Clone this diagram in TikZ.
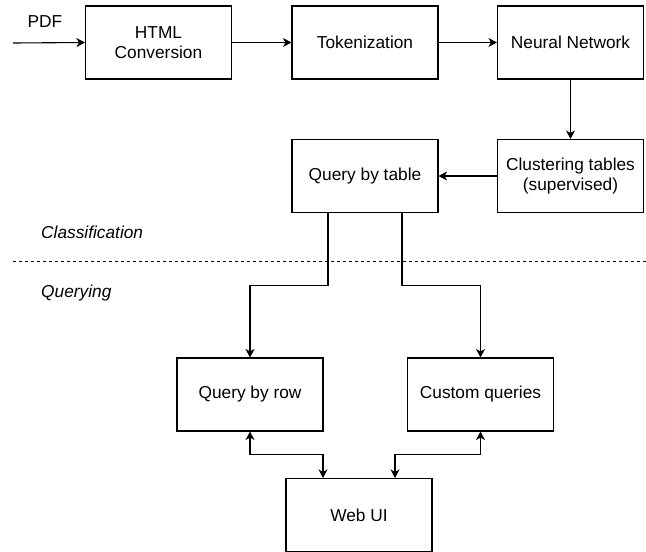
\documentclass[tikz,border=0pt]{standalone}
\usepackage{fontspec}
\setmainfont{Liberation Sans}
\usetikzlibrary{arrows.meta}
\begin{document}
\begin{tikzpicture}[x=1pt,y=-1pt,
  box/.style={draw, line width=1.1pt, minimum width=146pt, minimum height=73pt, align=center, inner sep=2pt, font=\fontsize{17.3}{19.5}\selectfont},
  lbl/.style={font=\fontsize{17.3}{19.5}\selectfont, inner sep=0pt},
  arr/.style={line width=1.1pt, -{Stealth[length=8.5pt,width=9pt,inset=2.5pt]}},
  darr/.style={line width=1.1pt, {Stealth[length=8.5pt,width=9pt,inset=2.5pt]}-{Stealth[length=8.5pt,width=9pt,inset=2.5pt]}}]
\useasboundingbox (0,0) rectangle (646,552);
\node[box] (html) at (158.5,42.5) {HTML\\Conversion};
\node[box] (tok) at (365,42.5) {Tokenization};
\node[box] (nn) at (570.5,42.5) {Neural Network};
\node[box] (clus) at (570.5,176) {Clustering tables\\(supervised)};
\node[box] (qt) at (365,176) {Query by table};
\node[box] (qr) at (250,394.5) {Query by row};
\node[box] (cq) at (480.5,394.5) {Custom queries};
\node[box] (web) at (359,515) {Web UI};
\coordinate (pdfstart) at (13,43);
\node[lbl] (pdf) at (45,22) {PDF};
\node[lbl, anchor=west] (cls) at (41,232) {\itshape Classification};
\node[lbl, anchor=west] (qry) at (41,293) {\itshape Querying};
\coordinate (dl) at (13,261);
\coordinate (dr) at (646,261);
\draw[line width=0.9pt, dash pattern=on 3pt off 3pt] (dl) -- (dr);
\draw[arr] (pdfstart) -- (html.west);
\draw[arr] (html) -- (tok);
\draw[arr] (tok) -- (nn);
\draw[arr] (nn) -- (clus);
\draw[arr] (clus) -- (qt);
\draw[arr] ([xshift=-37pt]qt.south) -- ++(0,72.5) -| (qr.north);
\draw[arr] ([xshift=37pt]qt.south) -- ++(0,72.5) -| (cq.north);
\draw[darr] (qr.south) -- ++(0,23) -| ([xshift=-36pt]web.north);
\draw[darr] (cq.south) -- ++(0,23) -| ([xshift=36pt]web.north);
\end{tikzpicture}
\end{document}
